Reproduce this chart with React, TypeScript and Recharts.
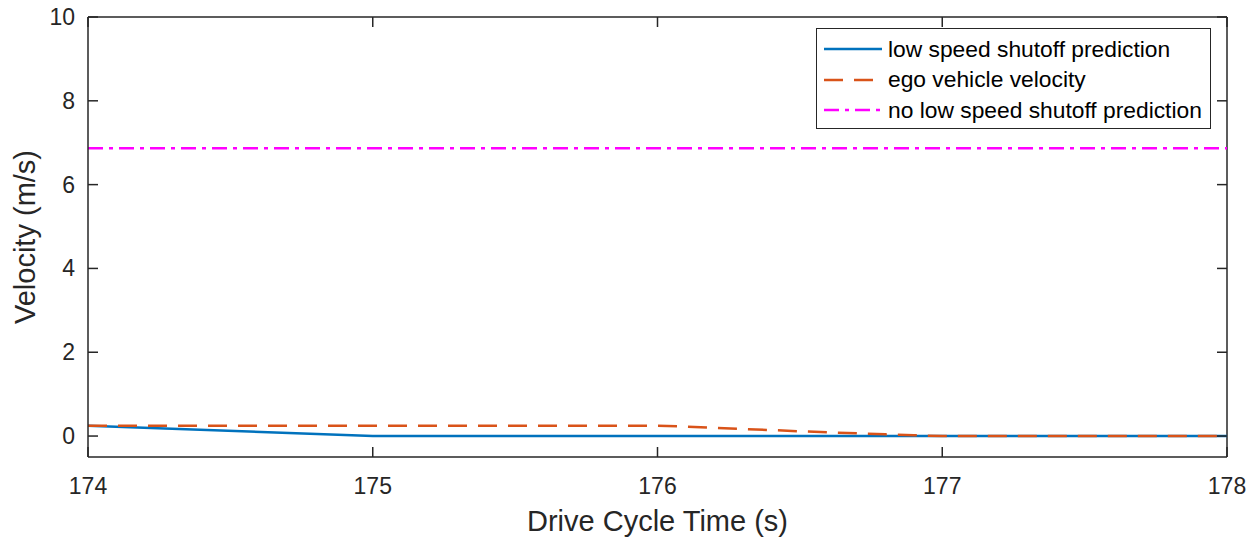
import React from 'react';
import { LineChart, Line, XAxis, YAxis, Legend, Label, ReferenceLine } from 'recharts';

// drive cycle time (s)
const TIME = [174, 175, 176, 176.1, 176.2, 176.3, 176.4, 176.5, 176.6, 176.7, 176.8, 176.9, 177, 178];
// velocities (m/s)
const LOW_SPEED_SHUTOFF = [0.245, 0, 0, 0, 0, 0, 0, 0, 0, 0, 0, 0, 0, 0];
const EGO_VELOCITY = [0.245, 0.245, 0.245, 0.225, 0.198, 0.17, 0.142, 0.114, 0.088, 0.064, 0.041, 0.018, 0, 0];
const NO_LOW_SPEED_SHUTOFF = [6.87, 6.87, 6.87, 6.87, 6.87, 6.87, 6.87, 6.87, 6.87, 6.87, 6.87, 6.87, 6.87, 6.87];

const X_TICKS = [174, 175, 176, 177, 178];
const Y_TICKS = [0, 2, 4, 6, 8, 10];

const SERIES = [
    { key: 'low', name: 'low speed shutoff prediction', color: '#0072BD', dash: undefined },
    { key: 'ego', name: 'ego vehicle velocity', color: '#D95319', dash: '19 11' },
    { key: 'none', name: 'no low speed shutoff prediction', color: '#FF00FF', dash: '15 6 4 6' },
];

const data = TIME.map((t, i) => ({
    t,
    low: LOW_SPEED_SHUTOFF[i],
    ego: EGO_VELOCITY[i],
    none: NO_LOW_SPEED_SHUTOFF[i],
}));

const W = 1256;
const H = 537;
const MARGIN = { top: 17, right: 29, bottom: 0, left: 0 };
const Y_AXIS_W = 88;
const X_AXIS_H = 80;
const PLOT_W = W - MARGIN.left - MARGIN.right - Y_AXIS_W;
const PLOT_H = H - MARGIN.top - MARGIN.bottom - X_AXIS_H;
const TICK_LEN = 10;

const AXIS = '#262626';
const FONT = '"Liberation Sans", Arial, Helvetica, sans-serif';

// MATLAB style: ticks point inward, repeated on the opposite side of the box
const XTick = (props: any) => {
    const { x, y, payload } = props;
    return (
        <g>
            <line x1={x} x2={x} y1={y} y2={y - TICK_LEN} stroke={AXIS} strokeWidth={1.5} />
            <line x1={x} x2={x} y1={y - PLOT_H} y2={y - PLOT_H + TICK_LEN} stroke={AXIS} strokeWidth={1.5} />
            <text x={x} y={y + 37} textAnchor="middle" fontSize={23} fontFamily={FONT} fill={AXIS}>
                {payload.value}
            </text>
        </g>
    );
};

const YTick = (props: any) => {
    const { x, y, payload } = props;
    return (
        <g>
            <line x1={x} x2={x + TICK_LEN} y1={y} y2={y} stroke={AXIS} strokeWidth={1.5} />
            <line x1={x + PLOT_W} x2={x + PLOT_W - TICK_LEN} y1={y} y2={y} stroke={AXIS} strokeWidth={1.5} />
            <text x={x - 13} y={y + 8} textAnchor="end" fontSize={23} fontFamily={FONT} fill={AXIS}>
                {payload.value}
            </text>
        </g>
    );
};

const renderLegend = () => (
    <div
        style={{
            width: 395,
            height: 101,
            boxSizing: 'border-box',
            border: `1px solid ${AXIS}`,
            background: '#fff',
            padding: '5px 0 0 7px',
            fontFamily: FONT,
            fontSize: 22.8,
            color: '#000',
        }}
    >
        {SERIES.map(s => (
            <div key={s.key} style={{ display: 'flex', alignItems: 'center', height: 30.5 }}>
                <svg width={58} height={10} style={{ marginRight: 6 }}>
                    <line x1={0} x2={58} y1={5} y2={5} stroke={s.color} strokeWidth={2.5} strokeDasharray={s.dash} />
                </svg>
                <span>{s.name}</span>
            </div>
        ))}
    </div>
);

export default function App() {
    return (
        <div style={{ position: 'absolute', left: 0, top: 0, background: '#fff' }}>
            <LineChart width={W} height={H} data={data} margin={MARGIN}>
                <XAxis
                    dataKey="t"
                    type="number"
                    domain={[174, 178]}
                    ticks={X_TICKS}
                    height={X_AXIS_H}
                    tickSize={0}
                    tickMargin={0}
                    tick={<XTick />}
                    axisLine={{ stroke: AXIS, strokeWidth: 1.5 }}
                    tickLine={false}
                >
                    <Label value="Drive Cycle Time (s)" position="insideBottom" offset={6} fontSize={29} fontFamily={FONT} fill={AXIS} />
                </XAxis>
                <YAxis
                    type="number"
                    domain={[-0.5, 10]}
                    ticks={Y_TICKS}
                    width={Y_AXIS_W}
                    tickSize={0}
                    tickMargin={0}
                    tick={<YTick />}
                    axisLine={{ stroke: AXIS, strokeWidth: 1.5 }}
                    tickLine={false}
                    allowDataOverflow
                >
                    <Label value="Velocity (m/s)" angle={-90} position="insideLeft" offset={25} style={{ textAnchor: 'middle' }} fontSize={29} fontFamily={FONT} fill={AXIS} />
                </YAxis>
                <ReferenceLine y={10} stroke={AXIS} strokeWidth={1.5} />
                <ReferenceLine x={178} stroke={AXIS} strokeWidth={1.5} />
                <Legend
                    layout="vertical"
                    align="center"
                    verticalAlign="middle"
                    content={renderLegend}
                    wrapperStyle={{ position: 'absolute', top: 28, left: 816, width: 395 }}
                />
                {SERIES.map(s => (
                    <Line
                        key={s.key}
                        type="linear"
                        dataKey={s.key}
                        name={s.name}
                        stroke={s.color}
                        strokeWidth={2.5}
                        strokeDasharray={s.dash}
                        dot={false}
                        activeDot={false}
                        isAnimationActive={false}
                    />
                ))}
            </LineChart>
        </div>
    );
}
